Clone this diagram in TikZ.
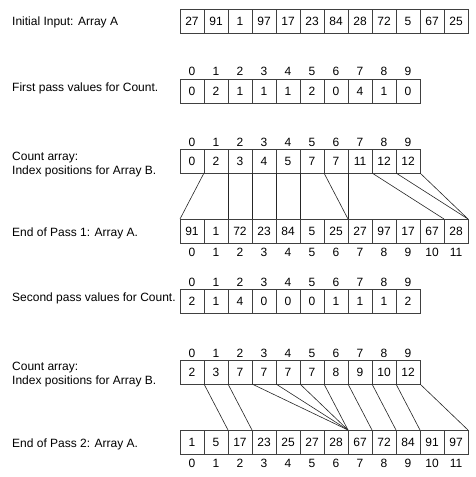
\documentclass[tikz,border=0pt]{standalone}
\usepackage{fontspec}
\setmainfont{Liberation Sans}
\usetikzlibrary{positioning}
\definecolor{boxline}{rgb}{0.25, 0.25, 0.25}

\tikzset{
    cell/.style={draw=boxline, line width=0.7pt, minimum width=24pt, minimum height=24pt, inner sep=0pt, outer sep=0pt},
    idx/.style={inner sep=0pt},
    lbl/.style={anchor=west, inner sep=0pt, align=left},
    link/.style={line width=0.6pt, color=black!85}
}

\begin{document}
\begin{tikzpicture}[x=1pt, y=-1pt, font=\fontsize{12}{14}\selectfont]
        \useasboundingbox (0, 0) rectangle (475, 477);

        % row labels
        \node[lbl] (L1) at (12, 22) {Initial Input: Array A};
        \node[lbl] (L2) at (12, 88) {First pass values for Count.};
        \node[lbl] (L3) at (12, 165) {Count array:\\Index positions for Array B.};
        \node[lbl] (L4) at (12, 233) {End of Pass 1: Array A.};
        \node[lbl] (L5) at (12, 298) {Second pass values for Count.};
        \node[lbl] (L6) at (12, 375) {Count array:\\Index positions for Array B.};
        \node[lbl] (L7) at (12, 444) {End of Pass 2: Array A.};

        % arrays
        \foreach \v [count=\i from 0] in {27,91,1,97,17,23,84,28,72,5,67,25}
            \node[cell] (a-\i) at (192+24*\i, 21) {\v};
        \foreach \v [count=\i from 0] in {0,2,1,1,1,2,0,4,1,0}
            \node[cell] (n1-\i) at (192+24*\i, 91) {\v};
        \foreach \v [count=\i from 0] in {0,2,3,4,5,7,7,11,12,12}
            \node[cell] (c1-\i) at (192+24*\i, 161) {\v};
        \foreach \v [count=\i from 0] in {91,1,72,23,84,5,25,27,97,17,67,28}
            \node[cell] (r1-\i) at (192+24*\i, 231) {\v};
        \foreach \v [count=\i from 0] in {2,1,4,0,0,0,1,1,1,2}
            \node[cell] (n2-\i) at (192+24*\i, 301) {\v};
        \foreach \v [count=\i from 0] in {2,3,7,7,7,7,8,9,10,12}
            \node[cell] (c2-\i) at (192+24*\i, 372) {\v};
        \foreach \v [count=\i from 0] in {1,5,17,23,25,27,28,67,72,84,91,97}
            \node[cell] (r2-\i) at (192+24*\i, 442) {\v};

        % index numbers
        \foreach \i in {0,...,9} {
            \node[idx] (in1-\i) at (192+24*\i, 71) {\i};
            \node[idx] (ic1-\i) at (192+24*\i, 142) {\i};
            \node[idx] (in2-\i) at (192+24*\i, 282) {\i};
            \node[idx] (ic2-\i) at (192+24*\i, 353) {\i};
        }
        \foreach \i in {0,...,11} {
            \node[idx] (ir1-\i) at (192+24*\i, 252) {\i};
            \node[idx] (ir2-\i) at (192+24*\i, 463) {\i};
        }

        % slot boundaries on the result arrays
        \foreach \j in {0,...,11} {
            \coordinate (p1-\j) at (r1-\j.north west);
            \coordinate (p2-\j) at (r2-\j.north west);
        }
        \coordinate (p1-12) at (r1-11.north east);
        \coordinate (p2-12) at (r2-11.north east);

        % count positions to slots
        \foreach \i/\c in {0/0,1/2,2/3,3/4,4/5,5/7,6/7,7/11,8/12,9/12}
            \draw[link] (c1-\i.south east) -- (p1-\c);
        \foreach \i/\c in {0/2,1/3,2/7,3/7,4/7,5/7,6/8,7/9,8/10,9/12}
            \draw[link] (c2-\i.south east) -- (p2-\c);
    \end{tikzpicture}
\end{document}
